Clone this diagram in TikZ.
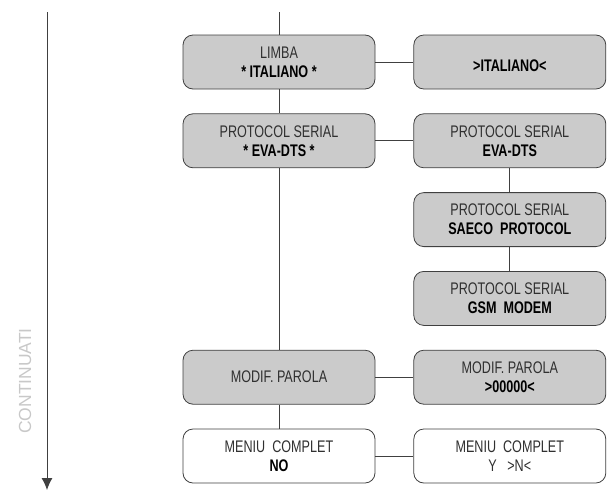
\documentclass[tikz,border=0pt]{standalone}
\usepackage{fontspec}
\setmainfont{Liberation Sans}[FakeStretch=0.75]
\newfontfamily\sidefont{Liberation Sans}
\usetikzlibrary{positioning,arrows.meta}
\definecolor{boxgray}{HTML}{CBCBCB}
\definecolor{edgegray}{HTML}{404040}
\definecolor{textgray}{HTML}{303030}
\definecolor{sidegray}{HTML}{C8C8C8}

\begin{document}
\begin{tikzpicture}[x=1pt, y=1pt,
        menubox/.style={draw=edgegray, line width=0.8pt, rounded corners=10pt,
            minimum width=192pt, minimum height=54pt, inner sep=2pt,
            align=center, text=textgray, font=\fontsize{16.8}{19}\selectfont},
        shaded/.style={menubox, fill=boxgray},
        plain/.style={menubox, fill=white}
    ]

    %styles
    \tikzstyle{link}=[draw=edgegray, line width=0.8pt]
    \tikzstyle{flow}=[draw=edgegray, line width=0.9pt, -{Latex[length=12pt,width=11pt]}]

    \useasboundingbox (0,0) rectangle (607,-493);

    %nodes
    \node[shaded] (limba) at (279,-62) {LIMBA\\ \textbf{\color{black}* ITALIANO *}};
    \node[shaded, right=38pt of limba] (italiano) {\\ \textbf{\color{black}>ITALIANO<}};
    \node[shaded, below=24pt of limba] (proto) {PROTOCOL SERIAL\\ \textbf{\color{black}* EVA-DTS *}};
    \node[shaded, right=38pt of proto] (eva) {PROTOCOL SERIAL\\ \textbf{\color{black}EVA-DTS}};
    \node[shaded, below=24pt of eva] (saeco) {PROTOCOL SERIAL\\ \textbf{\color{black}SAECO\ \ PROTOCOL}};
    \node[shaded, below=24pt of saeco] (gsm) {PROTOCOL SERIAL\\ \textbf{\color{black}GSM\ \ MODEM}};
    \node[shaded, below=24pt of gsm] (parolaval) {MODIF. PAROLA\\ \textbf{\color{black}>00000<}};
    \node[shaded, left=38pt of parolaval] (parola) {MODIF. PAROLA};
    \node[plain, below=24pt of parola] (meniu) {MENIU\ \ COMPLET\\ \textbf{\color{black}NO}};
    \node[plain, right=38pt of meniu] (meniuval) {MENIU\ \ COMPLET\\ Y\ \ \ >N<};

    \coordinate (entry) at (limba.north |- 0,-12);
    \coordinate (side top) at (47,-12);
    \coordinate (side end) at (47,-490);
    \node[rotate=90, text=sidegray, font=\sidefont\fontsize{17.5}{18}\selectfont] (cont) at (25,-381) {CONTINUATI};

    %lines
    \draw[link] (entry) -- (limba);
    \draw[link] (limba) -- (proto);
    \draw[link] (proto) -- (parola);
    \draw[link] (parola) -- (meniu);
    \draw[link] (eva) -- (saeco);
    \draw[link] (saeco) -- (gsm);
    \draw[link] (limba) -- (italiano);
    \draw[link] (proto) -- (eva);
    \draw[link] (parola) -- (parolaval);
    \draw[link] (meniu) -- (meniuval);

    %arrow
    \draw[flow] (side top) -- (side end);

\end{tikzpicture}
\end{document}
